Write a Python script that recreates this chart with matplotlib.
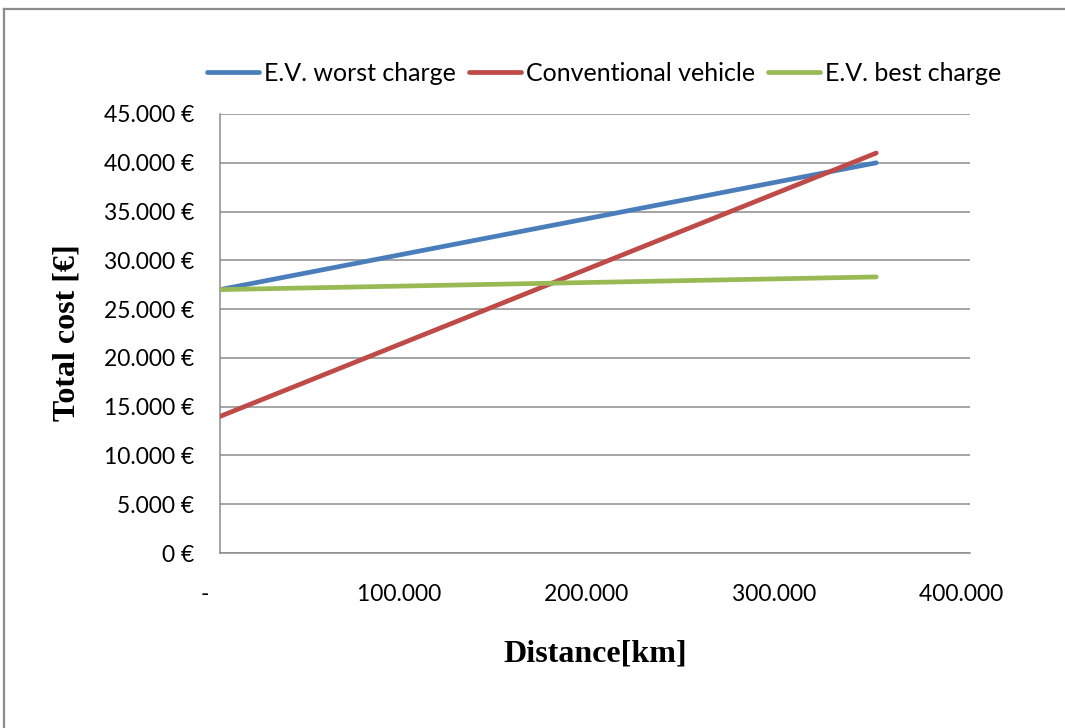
import matplotlib
matplotlib.use("Agg")
import matplotlib.pyplot as plt
import matplotlib.ticker as mticker
from matplotlib.lines import Line2D

# Total cost over driven distance
distance_km = [0, 350000]
ev_worst = [27000, 40000]
conventional = [14000, 41000]
ev_best = [27000, 28300]

series_names = ["E.V. worst charge", "Conventional vehicle", "E.V. best charge"]
series_colors = ["#4A7EBB", "#BE4B48", "#98B954"]

x_ticks = [0, 100000, 200000, 300000, 400000]
y_ticks = list(range(0, 45001, 5000))

plt.rcParams["font.family"] = ["Lato", "DejaVu Sans"]

W, H = 1065, 728
fig = plt.figure(figsize=(W / 100, H / 100), dpi=100)
ax = fig.add_axes([220 / W, 1 - 553 / H, 750 / W, 439 / H])

# outer chart frame (only top and left visible)
fig.add_artist(Line2D([4 / W, 1.01], [1 - 8.5 / H, 1 - 8.5 / H],
                      transform=fig.transFigure, color="#8c8c8c", lw=1.6))
fig.add_artist(Line2D([4.5 / W, 4.5 / W], [-0.01, 1 - 8.5 / H],
                      transform=fig.transFigure, color="#8c8c8c", lw=1.6))

for ys, name, col in zip([ev_worst, conventional, ev_best], series_names, series_colors):
    ax.plot(distance_km, ys, color=col, lw=3.4, label=name,
            solid_capstyle="round", zorder=3)

ax.set_xlim(0, 400000)
ax.set_ylim(0, 45000)
ax.set_xticks(x_ticks)
ax.set_yticks(y_ticks)


# accounting style labels: trailing padding pushes them a bit left
def fmt_x(v, pos):
    if v == 0:
        return "-     "
    return f"{v:,.0f}".replace(",", ".") + "   "


def fmt_y(v, pos):
    return f"{v:,.0f} €".replace(",", ".")


ax.xaxis.set_major_formatter(mticker.FuncFormatter(fmt_x))
ax.yaxis.set_major_formatter(mticker.FuncFormatter(fmt_y))
ax.tick_params(axis="both", length=0, labelsize=16.5, colors="black")
ax.tick_params(axis="x", pad=22)
ax.tick_params(axis="y", pad=18.5)

ax.grid(axis="y", color="#8c8c8c", lw=1.1)
ax.set_axisbelow(True)
for side in ["top", "right"]:
    ax.spines[side].set_visible(False)
for side in ["left", "bottom"]:
    ax.spines[side].set_color("#8c8c8c")
    ax.spines[side].set_linewidth(1.1)

fig.text(595 / W, 1 - 662 / H, "Distance[km]", family="Liberation Serif",
         weight="bold", fontsize=23, ha="center", va="baseline")
fig.text(67 / W, 1 - 333 / H, "Total cost [€]", family="Liberation Serif",
         weight="bold", fontsize=23, ha="center", va="center", rotation=90)

ax.legend(loc="center", bbox_to_anchor=(0.512, 1.093), ncol=3, frameon=False,
          fontsize=18, handlelength=2.1, handletextpad=0.2, columnspacing=0.5,
          borderaxespad=0, borderpad=0)

fig.savefig("out.png", dpi=100)
